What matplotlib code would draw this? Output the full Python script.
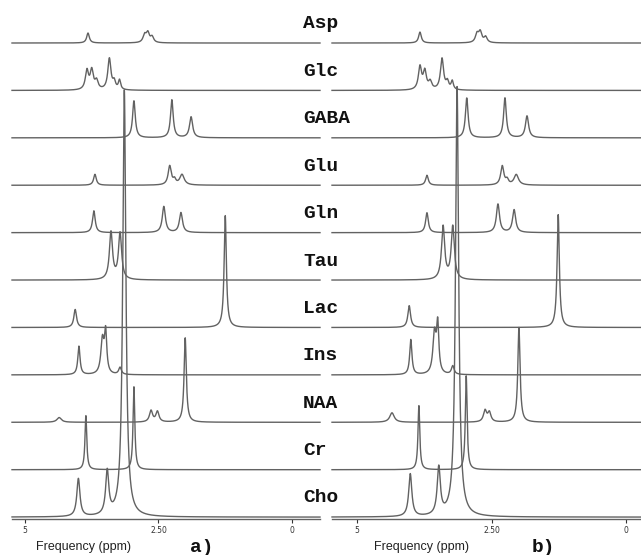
import numpy as np
import matplotlib
matplotlib.use("Agg")
import matplotlib.pyplot as plt

# ---------------- data ----------------
# metabolite order from top to bottom
metabolites = ["Asp", "Glc", "GABA", "Glu", "Gln", "Tau", "Lac", "Ins", "NAA", "Cr", "Cho"]

# peak lists: (ppm, height in units of trace spacing, line width ppm)
# ---- panel a) ----
asp_a = [(3.82, 0.21, 0.06), (2.76, 0.16, 0.07), (2.70, 0.20, 0.07), (2.62, 0.12, 0.07)]
glc_a = [(3.84, 0.40, 0.07), (3.75, 0.40, 0.07), (3.66, 0.18, 0.07), (3.42, 0.66, 0.07),
         (3.33, 0.16, 0.06), (3.23, 0.20, 0.05)]
gaba_a = [(2.96, 0.78, 0.06), (2.25, 0.80, 0.06), (1.89, 0.44, 0.07)]
glu_a = [(3.69, 0.23, 0.06), (2.29, 0.40, 0.07), (2.20, 0.10, 0.06), (2.06, 0.22, 0.10)]
gln_a = [(3.71, 0.46, 0.06), (2.40, 0.55, 0.07), (2.08, 0.42, 0.07)]
tau_a = [(3.39, 1.00, 0.07), (3.22, 0.98, 0.07)]
lac_a = [(4.06, 0.38, 0.06), (1.25, 2.36, 0.05)]
ins_a = [(3.99, 0.60, 0.05), (3.55, 0.72, 0.07), (3.49, 0.85, 0.05), (3.22, 0.15, 0.06)]
naa_a = [(4.36, 0.10, 0.10), (2.64, 0.24, 0.07), (2.52, 0.22, 0.07), (2.00, 1.78, 0.05)]
cr_a = [(3.86, 1.14, 0.04), (2.96, 1.75, 0.04)]
cho_a = [(4.00, 0.80, 0.07), (3.46, 0.92, 0.07), (3.14, 9.00, 0.07)]

# ---- panel b) ----
asp_b = [(3.83, 0.23, 0.06), (2.77, 0.18, 0.07), (2.71, 0.22, 0.07), (2.61, 0.12, 0.07)]
glc_b = [(3.83, 0.48, 0.07), (3.74, 0.38, 0.07), (3.64, 0.16, 0.07), (3.42, 0.66, 0.07),
         (3.32, 0.16, 0.06), (3.23, 0.18, 0.05)]
gaba_b = [(2.96, 0.84, 0.06), (2.25, 0.84, 0.06), (1.84, 0.46, 0.07)]
glu_b = [(3.70, 0.21, 0.06), (2.30, 0.40, 0.07), (2.21, 0.10, 0.06), (2.04, 0.22, 0.10)]
gln_b = [(3.70, 0.42, 0.06), (2.38, 0.60, 0.07), (2.08, 0.48, 0.07)]
tau_b = [(3.40, 1.12, 0.07), (3.22, 1.12, 0.07)]
lac_b = [(4.03, 0.46, 0.06), (1.26, 2.38, 0.05)]
ins_b = [(4.00, 0.74, 0.05), (3.56, 0.85, 0.07), (3.50, 1.00, 0.05), (3.22, 0.18, 0.06)]
naa_b = [(4.35, 0.20, 0.10), (2.62, 0.24, 0.07), (2.54, 0.20, 0.07), (1.99, 2.00, 0.05)]
cr_b = [(3.85, 1.35, 0.04), (2.97, 1.98, 0.04)]
cho_b = [(4.01, 0.90, 0.07), (3.48, 1.00, 0.07), (3.14, 9.07, 0.07)]

panel_a = [asp_a, glc_a, gaba_a, glu_a, gln_a, tau_a, lac_a, ins_a, naa_a, cr_a, cho_a]
panel_b = [asp_b, glc_b, gaba_b, glu_b, gln_b, tau_b, lac_b, ins_b, naa_b, cr_b, cho_b]

tick_values = [5, 2.5, 0]
tick_labels = ["5", "2.50", "0"]

# ---------------- drawing ----------------
W, H = 641, 555
fig = plt.figure(figsize=(W / 100, H / 100), dpi=100)

LINE = "#626262"
n = len(metabolites)


def spectrum(x, peaks):
    y = np.zeros_like(x)
    for c, h, w in peaks:
        g = w / 2.0
        y += h * g * g / ((x - c) ** 2 + g * g)
    return y


def make_axes(left_px, right_px, xlim):
    bottom_px = 519
    ax = fig.add_axes([left_px / W, (H - bottom_px) / H,
                       (right_px - left_px) / W, bottom_px / H])
    ax.set_xlim(*xlim)
    ax.set_ylim(-0.04, (bottom_px - 2) / 47.4)
    for s in ["top", "right", "left"]:
        ax.spines[s].set_visible(False)
    ax.spines["bottom"].set_color(LINE)
    ax.spines["bottom"].set_linewidth(1.0)
    ax.set_yticks([])
    ax.set_xticks(tick_values)
    ax.set_xticklabels(tick_labels)
    ax.tick_params(axis="x", direction="out", length=3, width=0.8, colors="#333333",
                   labelsize=5.5, pad=2)
    ax.patch.set_alpha(0)
    return ax


def draw_panel(ax, peaks_list):
    x0, x1 = ax.get_xlim()
    x = np.linspace(x0, x1, 8000)
    for i, peaks in enumerate(peaks_list):
        off = n - 1 - i
        ax.plot(x, off + spectrum(x, peaks), color=LINE, lw=1.0, clip_on=False)


ax_a = make_axes(12, 320, (5.243, -0.524))
ax_b = make_axes(332, 641, (5.465, -0.279))
draw_panel(ax_a, panel_a)
draw_panel(ax_b, panel_b)

# metabolite labels between panels
for i, name in enumerate(metabolites):
    off = n - 1 - i
    y_px = 517 - off * 47.4 - 19
    fig.text(303 / W, 1 - y_px / H, name, ha="left", va="center",
             family="Liberation Mono", weight="bold", fontsize=14, color="#111111")

# axis titles
fig.text(83 / W, 1 - 547 / H, "Frequency (ppm)", ha="center", va="center",
         family="Liberation Sans", fontsize=9, color="#222222")
fig.text(421 / W, 1 - 547 / H, "Frequency (ppm)", ha="center", va="center",
         family="Liberation Sans", fontsize=9, color="#222222")
fig.text(202 / W, 1 - 548 / H, "a)", ha="center", va="center",
         family="Liberation Mono", weight="bold", fontsize=14, color="#111111")
fig.text(543 / W, 1 - 548 / H, "b)", ha="center", va="center",
         family="Liberation Mono", weight="bold", fontsize=14, color="#111111")

fig.savefig("out.png", dpi=100)
